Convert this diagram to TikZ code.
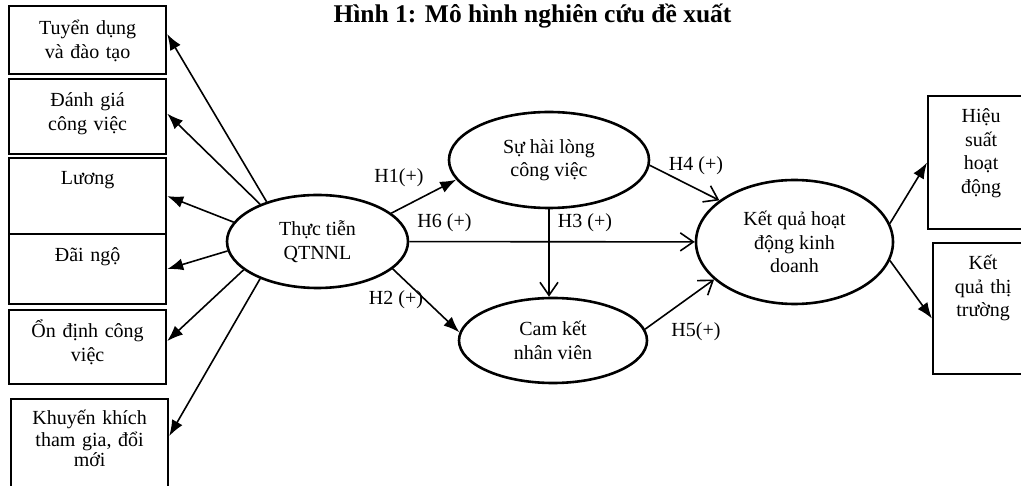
\documentclass[tikz,border=0pt]{standalone}
\usepackage{fontspec}
\setmainfont{Liberation Serif}
\usetikzlibrary{shapes.geometric, arrows.meta}
\tikzstyle{box} = [rectangle, draw, line width=2.2pt, anchor=north west, inner sep=0]
\tikzstyle{boxtext} = [text width=150pt, align=center, anchor=base, inner sep=0]
\tikzstyle{bubble} = [ellipse, draw, line width=2.6pt, align=center, inner sep=0]
\tikzstyle{hlabel} = [anchor=base, inner sep=0]
\tikzstyle{arrow} = [line width=1.6pt, -{Latex[length=16pt,width=12pt]}]
\tikzstyle{openarrow} = [line width=1.6pt, -{Straight Barb[length=13pt,width=18pt]}]

\begin{document}
\begin{tikzpicture}[x=1pt, y=-1pt, font=\fontsize{20}{23.5}\selectfont]
\clip (0,0) rectangle (1021,486);
\fill[white] (0,0) rectangle (1021,486);

\node[anchor=base, inner sep=0] (title) at (532.5,22.5) {\bfseries\fontsize{25.5}{30}\selectfont Hình 1: Mô hình nghiên cứu đề xuất};

% left boxes
\node[box, minimum width=157pt, minimum height=68pt] (tuyen) at (8,5) {};
\node[boxtext] (tuyentext) at ([yshift=-30pt]tuyen.north) {Tuyển dụng\\và đào tạo};
\node[box, minimum width=157pt, minimum height=75pt] (danhgia) at (8,78) {};
\node[boxtext] (danhgiatext) at ([yshift=-29pt]danhgia.north) {Đánh giá\\công việc};
\node[box, minimum width=157pt, minimum height=76pt] (luong) at (8,157) {};
\node[boxtext] (luongtext) at ([yshift=-28pt]luong.north) {Lương};
\node[box, minimum width=157pt, minimum height=70pt] (daingo) at (8,233) {};
\node[boxtext] (daingotext) at ([yshift=-29pt]daingo.north) {Đãi ngộ};
\node[box, minimum width=157pt, minimum height=74pt] (ondinh) at (8,309) {};
\node[boxtext] (ondinhtext) at ([yshift=-29pt]ondinh.north) {Ổn định công\\việc};
\node[box, minimum width=157pt, minimum height=100pt] (khuyen) at (10,398) {};
\node[boxtext, text width=140pt] (khuyentext) at ([yshift=-27pt]khuyen.north) {Khuyến khích\\[-2.5pt]tham gia, đổi\\[-2.5pt]mới};

% right boxes
\node[box, minimum width=106pt, minimum height=133pt] (hieusuat) at (927,95) {};
\node[boxtext, text width=90pt] (hieusuattext) at ([yshift=-28pt]hieusuat.north) {Hiệu\\suất\\hoạt\\động};
\node[box, minimum width=100pt, minimum height=131pt] (thitruong) at (932,242) {};
\node[boxtext, text width=90pt] (thitruongtext) at ([yshift=-28pt]thitruong.north) {Kết\\quả thị\\trường};

% constructs
\node[bubble, minimum width=181pt, minimum height=93pt] (qtnnl) at (317.5,241.5) {Thực tiễn\\QTNNL};
\node[bubble, minimum width=200pt, minimum height=96pt] (hailong) at (549,160) {Sự hài lòng\\công việc};
\node[bubble, minimum width=188pt, minimum height=85pt] (camket) at (553,340.5) {Cam kết\\nhân viên};
\node[bubble, minimum width=197pt, minimum height=124pt] (ketqua) at (794.5,242) {Kết quả hoạt\\động kinh\\doanh};

% practices
\draw[arrow] (qtnnl.142) -- ([yshift=6pt]tuyen.east);
\draw[arrow] (qtnnl.147) -- ([yshift=3pt]danhgia.east);
\draw[arrow] (qtnnl.167) -- (luong.east);
\draw[arrow] (qtnnl.186) -- (daingo.east);
\draw[arrow] (qtnnl.201) -- ([yshift=6pt]ondinh.east);
\draw[arrow] (qtnnl.213) -- ([yshift=13pt]khuyen.east);

% hypotheses
\draw[arrow] (qtnnl.21) -- (hailong.192);
\draw[arrow] (qtnnl.340) -- (camket.175);
\draw[openarrow] (hailong.south) -- (hailong.south |- camket.north);
\draw[openarrow] (qtnnl) -- (ketqua);
\draw[openarrow] (hailong.357) -- (ketqua.151);
\draw[openarrow] (camket.7) -- (ketqua.205);

% outcomes
\draw[arrow] (ketqua.11) -- (hieusuat.west);
\draw[arrow] (ketqua.349) -- ([yshift=-10pt]thitruong.west);

\node[hlabel] (h1) at (399,183) {H1(+)};
\node[hlabel] (h2) at (396,305) {H2 (+)};
\node[hlabel] (h3) at (585,228) {H3 (+)};
\node[hlabel] (h4) at (696,171) {H4 (+)};
\node[hlabel] (h5) at (696,337) {H5(+)};
\node[hlabel] (h6) at (444.5,228) {H6 (+)};
\end{tikzpicture}
\end{document}
